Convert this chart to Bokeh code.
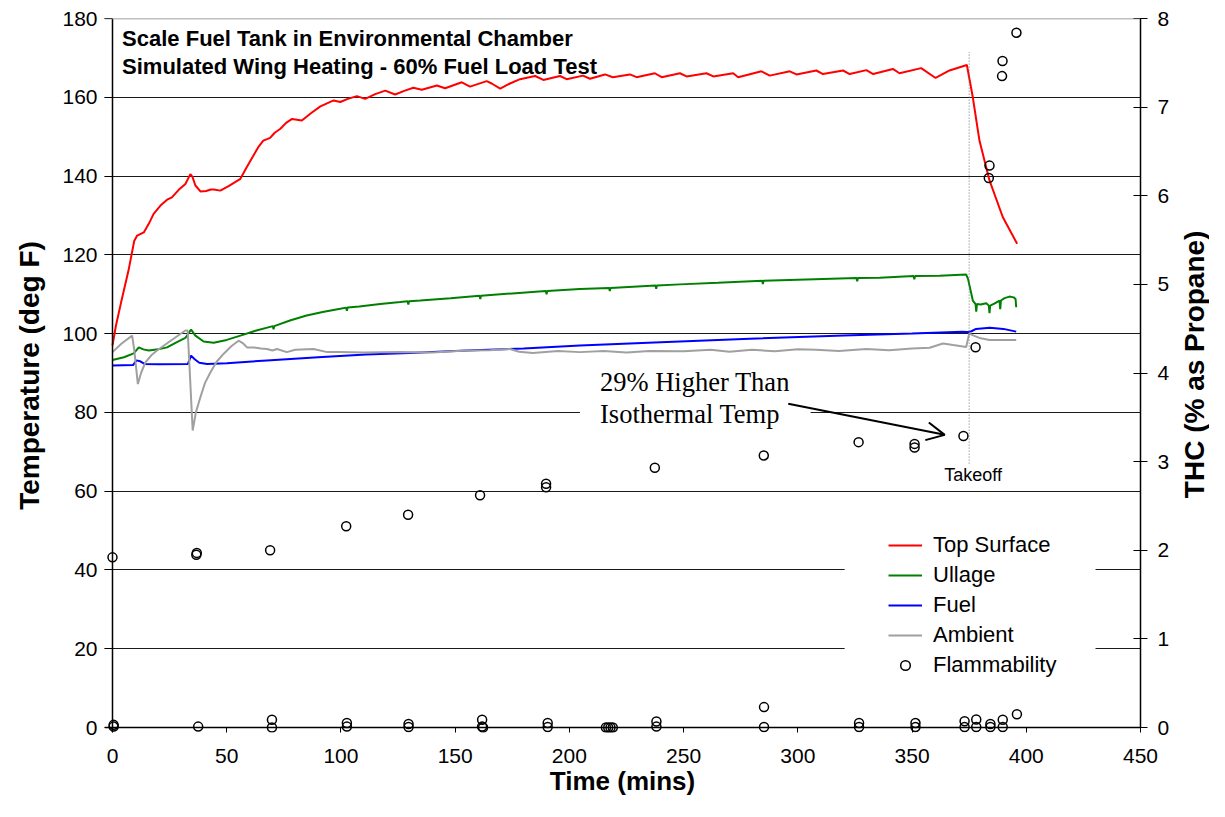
import math
from bokeh.plotting import figure
from bokeh.layouts import row
from bokeh.models import (Range1d, LinearAxis, FixedTicker, Span, Label, Arrow, OpenHead,
                          BoxAnnotation, Legend, LegendItem)
from bokeh.embed import file_html
from bokeh.resources import INLINE

# ---------------- data ----------------
TOP_T = [0, 1.5, 3.8, 7, 9.5, 10.8, 13.7, 16, 18, 21,
         23.9, 26, 29, 31.9, 34.1, 35, 36.3, 38.5, 41, 43,
         44.3, 47.2, 51, 56, 58.5, 61.7, 64, 66, 69, 71,
         73.5, 76, 78.6, 82.9, 87, 91, 96.8, 99.7, 103, 107,
         110.6, 115, 119.4, 123.7, 128, 131.7, 135.4, 142, 145.6, 152.9,
         156.5, 163.8, 166, 169.7, 174, 178.4, 185, 188.6, 195.9, 198.8,
         206, 209, 215.6, 219, 226.5, 229.4, 237.4, 240.4, 248.4, 251.3,
         260, 263, 271.7, 273.9, 284.1, 287.7, 296.5, 299.4, 308.1, 311,
         319.8, 322.7, 330, 333, 341.6, 344.5, 354, 360.3, 366.4, 374,
         376.6, 379.5, 383.9, 389.7, 396]
TOP_V = [97, 102, 108, 116, 123.5, 124.9, 125.7, 128, 130.4, 132.5,
         134, 134.6, 136.5, 138, 140.5, 139.8, 137.6, 136.1, 136.2, 136.6,
         136.6, 136.3, 137.5, 139.3, 142, 145.2, 147.5, 149, 149.7, 151,
         152, 153.5, 154.5, 154.1, 156, 157.7, 159.2, 158.8, 159.6, 160.3,
         159.6, 160.8, 161.7, 160.7, 161.7, 162.4, 161.9, 163, 162.3, 163.8,
         162.7, 164.1, 163.5, 162.2, 163.5, 164.6, 165.4, 164.4, 165.4, 164.6,
         165.5, 164.7, 165.8, 165.1, 165.8, 165.1, 166.1, 165.1, 166.1, 165.3,
         166.1, 165.3, 166.1, 165.1, 166.6, 165.5, 166.6, 165.8, 166.8, 165.9,
         166.8, 165.9, 166.9, 165.9, 167.2, 166.1, 167.4, 164.9, 166.8, 168.2,
         160, 149, 138.9, 129.6, 122.8]

ULLAGE_T = [0, 5, 9.3, 11.5, 13.5, 15.9, 20, 23.9, 28, 31.9,
            34.4, 36.3, 39.9, 44.3, 50, 56, 63, 70.2, 70.5, 70.8,
            78, 85, 92, 99.7, 102.3, 102.6, 102.9, 108, 117.2, 126,
            129.2, 129.5, 129.8, 134.7, 148, 160.7, 161, 161.3, 175, 189.7,
            190, 190.3, 204.6, 217.4, 217.7, 218, 237.7, 238, 238.3, 248.4,
            265, 284.4, 284.7, 285, 300, 325.7, 326, 326.3, 335.8, 350.7,
            351, 351.3, 362, 373.7, 374.5, 376.6, 377.8, 378.1, 378.4, 380,
            382.5, 383.6, 383.9, 384.2, 386, 388.3, 388.6, 388.9, 390.5, 392.6,
            394.5, 395.3, 395.6]
ULLAGE_V = [93.3, 94, 95, 96.5, 96, 95.7, 96, 96.5, 97.8, 98.9,
            101, 99.5, 98, 97.7, 98.4, 99.5, 100.8, 101.9, 101.1, 101.9,
            103.4, 104.6, 105.5, 106.3, 106.6, 105.8, 106.6, 106.9, 107.5, 108,
            108.2, 107.4, 108.2, 108.4, 109, 109.6, 108.8, 109.6, 110.2, 110.8,
            110, 110.8, 111.3, 111.6, 110.8, 111.6, 112.2, 111.4, 112.2, 112.5,
            112.9, 113.4, 112.6, 113.4, 113.7, 114.1, 113.3, 114.1, 114.2, 114.6,
            113.8, 114.6, 114.7, 115.0, 113.9, 108.4, 107.5, 105.6, 107.5, 107.4,
            107.7, 107.1, 105.2, 107.1, 107.6, 108.4, 106.2, 108.4, 109, 109.4,
            109.2, 108.8, 106.7]

FUEL_T = [0, 9, 10.5, 12, 14, 20, 33, 34.4, 36, 38,
          41.4, 50, 67.6, 90, 111, 130, 155, 180, 204.6, 240,
          279, 320, 350, 372, 374.4, 376, 378, 384, 390, 395.6]
FUEL_V = [91.9, 92, 93.2, 93, 92.3, 92.2, 92.3, 94.4, 93.5, 92.6,
          92.3, 92.5, 93.2, 94, 94.7, 95.1, 95.7, 96.2, 97.0, 97.8,
          98.7, 99.5, 100, 100.5, 100.4, 100.6, 101.2, 101.5, 101.2, 100.5]

AMBIENT_T = [0, 4, 8.6, 9.5, 11.1, 12.5, 14.4, 17, 19.5, 25,
             31.9, 32.9, 33.6, 35.1, 36.5, 38.5, 40.5, 42.9, 45.5, 48.7,
             52, 55.2, 57, 58.9, 62, 65, 67.6, 70, 72, 76.3,
             80, 88, 94, 99.7, 110, 126, 140, 155, 165, 174,
             178, 184, 195, 204.6, 215, 225, 235, 250, 262, 270,
             280, 290, 300, 308, 318, 330, 340, 350, 357.7, 363.5,
             368, 373.7, 375, 377, 379.5, 383.9, 395.6]
AMBIENT_V = [95.3, 97.5, 99.5, 96, 87.2, 90, 92.7, 94.5, 95.7, 98,
             100.8, 100.8, 93, 75.4, 80, 83.9, 87.5, 90.2, 92.8, 94.9,
             96.8, 98.2, 97.6, 96.5, 96.5, 96.2, 96.1, 95.7, 96.1, 95.3,
             95.9, 96.1, 95.3, 95.3, 95.2, 95.3, 95.2, 95.7, 95.8, 96.1,
             95.4, 95.1, 95.6, 95.3, 95.6, 95.2, 95.6, 95.5, 95.9, 95.4,
             95.9, 95.5, 96.0, 95.9, 95.6, 96.1, 95.8, 96.2, 96.4, 97.5,
             97.1, 96.6, 100, 99.5, 98.9, 98.4, 98.4]

FLAM_T = [0, 36.7, 36.9, 69, 102.3, 129.4, 160.9, 189.8, 189.8, 237.4,
          285.1, 326.6, 351.1, 351.1, 372.5, 377.8, 383.9, 383.6, 389.6, 389.4,
          395.7,
          0.5, 0.5, 37.5, 69.8, 69.8, 102.6, 102.6, 129.6, 129.6, 161.8,
          161.8, 162.2, 190.5, 190.5, 216, 217, 218, 219, 238.1, 238.1,
          285.2, 285.2, 326.8, 326.8, 351.5, 351.5, 373, 373, 378.1, 378.1,
          384.3, 384.3, 389.7, 389.7, 395.9]
FLAM_THC = [1.92, 1.95, 1.97, 2.0, 2.27, 2.40, 2.62, 2.75, 2.71, 2.93,
            3.07, 3.22, 3.20, 3.16, 3.29, 4.29, 6.34, 6.20, 7.52, 7.35,
            7.84,
            0.03, 0.01, 0.01, 0.087, 0.0, 0.05, 0.01, 0.04, 0.005, 0.087,
            0.01, 0.0, 0.05, 0.005, 0, 0, 0, 0, 0.068, 0.01,
            0.23, 0.005, 0.05, 0.005, 0.05, 0.005, 0.07, 0.005, 0.09, 0.005,
            0.04, 0.005, 0.087, 0.005, 0.15]

X_TICKS = [0, 50, 100, 150, 200, 250, 300, 350, 400, 450]
Y_TICKS = [0, 20, 40, 60, 80, 100, 120, 140, 160, 180]
THC_TICKS = [0, 1, 2, 3, 4, 5, 6, 7, 8]
TAKEOFF_T = 375
TAKEOFF_SPAN = (67, 171.5)

# ---------------- layout ----------------
FONT = "Liberation Sans"
PAD_L, PAD_B = 8, 5          # px of frame kept beyond the axes so markers on them are not clipped
PLOT_W, PLOT_H = 1029, 709   # px from x=0..450 and y=0..180
x_start = -PAD_L * 450 / PLOT_W
y_start = -PAD_B * 180 / PLOT_H
thc_start = -PAD_B * 8 / PLOT_H
TOTAL_W, TOTAL_H = 1209, 801
MAIN_W = 1172

p = figure(width=MAIN_W, height=TOTAL_H, output_backend="svg", toolbar_location=None,
           x_range=Range1d(x_start, 450), y_range=Range1d(y_start, 180),
           min_border_left=104, min_border_right=MAIN_W - 104 - 1037,
           min_border_top=18, min_border_bottom=69)
p.outline_line_color = None
p.background_fill_color = "white"
p.border_fill_color = "white"
p.extra_y_ranges = {"thc": Range1d(thc_start, 8)}

# grid
p.xgrid.visible = False
p.ygrid.ticker = FixedTicker(ticks=Y_TICKS[1:-1])
p.ygrid.grid_line_color = "#1a1a1a"
p.ygrid.grid_line_width = 1

# white patches behind text boxes (hide grid lines there)
p.add_layout(BoxAnnotation(left=320.5, right=430.3, bottom=6.9, top=57.6, fill_color="white",
                           fill_alpha=1, line_color=None, level="underlay"))
p.add_layout(BoxAnnotation(left=204.6, right=305.6, bottom=76.7, top=90.0, fill_color="white",
                           fill_alpha=1, line_color=None, level="underlay"))

# left axis
ya = p.yaxis[0]
ya.ticker = FixedTicker(ticks=Y_TICKS)
ya.axis_line_color = None
ya.major_tick_in = 8
ya.major_tick_out = 0
ya.major_tick_line_color = "black"
ya.minor_tick_line_color = None
ya.major_label_standoff = 7
ya.major_label_text_font = FONT
ya.major_label_text_font_size = "21px"
ya.major_label_text_color = "black"
ya.axis_label = "Temperature (deg F)"
ya.axis_label_text_font = FONT
ya.axis_label_text_font_style = "bold"
ya.axis_label_text_font_size = "28px"
ya.axis_label_text_color = "black"
ya.axis_label_standoff = 14

# bottom axis
xa = p.xaxis[0]
xa.ticker = FixedTicker(ticks=X_TICKS)
xa.axis_line_color = None
xa.major_tick_in = 5
xa.major_tick_out = 0
xa.major_tick_line_color = "black"
xa.minor_tick_line_color = None
xa.major_label_standoff = 16
xa.major_label_text_font = FONT
xa.major_label_text_font_size = "21px"
xa.major_label_text_color = "black"
xa.axis_label = "Time (mins)"
xa.axis_label_text_font = FONT
xa.axis_label_text_font_style = "bold"
xa.axis_label_text_font_size = "26px"
xa.axis_label_text_color = "black"
xa.axis_label_standoff = 0

# right axis (ticks and numbers)
ra = LinearAxis(y_range_name="thc", ticker=FixedTicker(ticks=THC_TICKS), bounds=(0, 8))
ra.axis_line_color = "black"
ra.axis_line_width = 1.5
ra.major_tick_in = 7
ra.major_tick_out = 7
ra.major_tick_line_color = "black"
ra.minor_tick_line_color = None
ra.major_label_standoff = 10
ra.major_label_text_font = FONT
ra.major_label_text_font_size = "21px"
ra.major_label_text_color = "black"
p.add_layout(ra, "right")

# axis lines at the data origin
p.add_layout(Span(location=0, dimension="height", line_color="black", line_width=1.5))
p.add_layout(Span(location=0, dimension="width", line_color="black", line_width=1.5))
p.add_layout(Span(location=180, dimension="width", line_color="#808080", line_width=1.5))

# series
r_top = p.line(TOP_T, TOP_V, line_color="#FF0000", line_width=2)
r_ull = p.line(ULLAGE_T, ULLAGE_V, line_color="#008000", line_width=2)
r_fuel = p.line(FUEL_T, FUEL_V, line_color="#0000FF", line_width=2)
r_amb = p.line(AMBIENT_T, AMBIENT_V, line_color="#A0A0A0", line_width=2)
r_flam = p.scatter(FLAM_T, FLAM_THC, y_range_name="thc", marker="circle", size=9,
                   fill_alpha=0, line_color="black", line_width=1.5)

# takeoff marker
p.segment(x0=[TAKEOFF_T], y0=[TAKEOFF_SPAN[0]], x1=[TAKEOFF_T], y1=[TAKEOFF_SPAN[1]],
          line_color="#707070", line_width=1, line_dash="1 2")
p.add_layout(Label(x=TAKEOFF_T, y=64.0, x_offset=4, text="Takeoff", text_align="center",
                   text_baseline="middle", text_font=FONT, text_font_size="18px",
                   text_color="black"))

# titles
for yy, txt in [(174.9, "Scale Fuel Tank in Environmental Chamber"),
                (167.8, "Simulated Wing Heating - 60% Fuel Load Test")]:
    p.add_layout(Label(x=4.2, y=yy, text=txt, text_font=FONT, text_font_style="bold",
                       text_font_size="22px", text_baseline="middle", text_color="black"))

# annotation
for yy, txt in [(87.6, "29% Higher Than"), (79.7, "Isothermal Temp")]:
    p.add_layout(Label(x=213.4, y=yy, text=txt, text_font="Liberation Serif",
                       text_font_size="26.5px", text_baseline="middle", text_color="black"))
p.add_layout(Arrow(end=OpenHead(size=18, line_width=2, line_color="black"),
                   x_start=295.8, y_start=82.2, x_end=364.3, y_end=74.3,
                   line_width=2, line_color="black"))

# legend
legend = Legend(items=[LegendItem(label="Top Surface", renderers=[r_top]),
                       LegendItem(label="Ullage", renderers=[r_ull]),
                       LegendItem(label="Fuel", renderers=[r_fuel]),
                       LegendItem(label="Ambient", renderers=[r_amb]),
                       LegendItem(label="Flammability", renderers=[r_flam])],
                location=(784, 54), padding=0, margin=0, spacing=4,
                glyph_width=34, glyph_height=24, label_height=24, label_standoff=11,
                label_text_font=FONT, label_text_font_size="22px", label_text_color="black",
                border_line_color=None, background_fill_alpha=0)
p.add_layout(legend)

# right-hand strip carrying the secondary axis title (reads bottom-to-top)
side_w = TOTAL_W - MAIN_W
q = figure(width=side_w, height=TOTAL_H, output_backend="svg", toolbar_location=None,
           x_range=Range1d(0, side_w), y_range=Range1d(0, TOTAL_H),
           x_axis_type=None, y_axis_type=None,
           min_border_left=0, min_border_right=0, min_border_top=0, min_border_bottom=0)
q.outline_line_color = None
q.background_fill_color = "white"
q.border_fill_color = "white"
q.add_layout(Label(x=side_w / 2 + 3, y=TOTAL_H - 388, text="THC (% as Propane)", angle=math.pi / 2,
                   text_align="center", text_baseline="middle", text_font=FONT,
                   text_font_style="bold", text_font_size="28px", text_color="black"))

layout = row(p, q, spacing=0)
open("out.html", "w").write(file_html(layout, INLINE))
